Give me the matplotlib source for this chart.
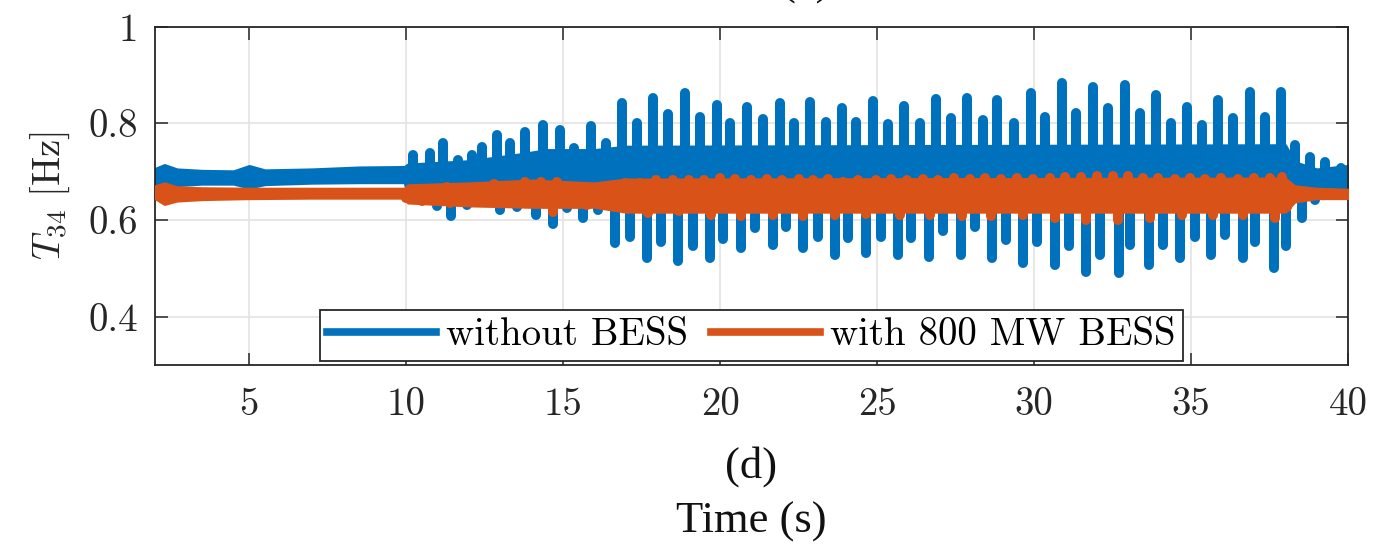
import matplotlib

matplotlib.use("Agg")
import matplotlib.pyplot as plt
from matplotlib.lines import Line2D

BLUE = "#0072BD"
RED = "#D95319"
EDGE = "#262626"
GRID = "#e3e3e3"

plt.rcParams.update({
    "font.family": "serif",
    "font.serif": ["cmr10"],
    "mathtext.fontset": "cm",
    "axes.unicode_minus": False,
    "axes.formatter.use_mathtext": True,
})

# ---- data ----------------------------------------------------------------
# solid core of each trace: time, lower edge, upper edge
blue_body_t = [2.0, 2.3, 2.7, 3.5, 4.5, 5.0, 5.5, 7.0, 8.5, 9.95, 10.05, 12.0,
               13.5, 14.5, 16.0, 17.0, 38.0, 38.3, 39.0, 40.0]
blue_body_lo = [0.672, 0.668, 0.672, 0.675, 0.675, 0.667, 0.674, 0.677, 0.678,
                0.678, 0.650, 0.645, 0.640, 0.638, 0.635, 0.630, 0.630, 0.655,
                0.665, 0.668]
blue_body_hi = [0.706, 0.714, 0.705, 0.702, 0.701, 0.712, 0.703, 0.705, 0.709,
                0.710, 0.715, 0.722, 0.735, 0.745, 0.745, 0.752, 0.755, 0.720,
                0.705, 0.712]

red_body_t = [2.0, 2.3, 2.7, 3.5, 5.0, 7.0, 9.95, 10.05, 12.0, 14.0, 16.0,
              17.0, 38.0, 38.3, 39.0, 40.0]
red_body_lo = [0.645, 0.633, 0.640, 0.643, 0.645, 0.646, 0.646, 0.636, 0.630,
               0.627, 0.627, 0.617, 0.617, 0.638, 0.645, 0.645]
red_body_hi = [0.670, 0.676, 0.668, 0.666, 0.665, 0.665, 0.665, 0.672, 0.676,
               0.682, 0.676, 0.684, 0.686, 0.670, 0.665, 0.663]

# oscillation peaks (outer edge of the stroke)
blue_up_t = [10.23, 10.76, 11.18, 11.66, 12.09, 12.40, 12.88, 13.31, 13.78,
             14.37, 14.90, 15.35, 15.90, 16.36, 16.87, 17.34, 17.87, 18.35,
             18.89, 19.36, 19.89, 20.33, 20.87, 21.37, 21.90, 22.34, 22.87,
             23.38, 23.87, 24.34, 24.88, 25.35, 25.86, 26.36, 26.87, 27.35,
             27.88, 28.37, 28.83, 29.36, 29.89, 30.34, 30.88, 31.35, 31.88,
             32.36, 32.89, 33.37, 33.88, 34.35, 34.87, 35.35, 35.86, 36.34,
             36.87, 37.35, 37.88, 38.30, 38.80, 39.26, 39.77]
blue_up_v = [0.745, 0.749, 0.769, 0.735, 0.745, 0.762, 0.786, 0.769, 0.793,
             0.807, 0.797, 0.760, 0.804, 0.769, 0.852, 0.811, 0.862, 0.830,
             0.873, 0.824, 0.848, 0.812, 0.844, 0.819, 0.852, 0.811, 0.855,
             0.814, 0.843, 0.814, 0.857, 0.810, 0.847, 0.811, 0.860, 0.821,
             0.862, 0.818, 0.859, 0.811, 0.873, 0.824, 0.893, 0.831, 0.886,
             0.842, 0.890, 0.831, 0.869, 0.811, 0.845, 0.807, 0.859, 0.821,
             0.876, 0.824, 0.876, 0.766, 0.741, 0.731, 0.717]

blue_dn_t = [10.49, 10.97, 11.42, 11.93, 12.35, 12.99, 13.52, 14.12, 14.69,
             15.11, 15.64, 16.12, 16.65, 17.13, 17.66, 18.13, 18.66, 19.14,
             19.67, 20.10, 20.65, 21.11, 21.67, 22.11, 22.64, 23.12, 23.66,
             24.08, 24.66, 25.14, 25.67, 26.09, 26.66, 27.11, 27.66, 28.11,
             28.65, 29.12, 29.65, 30.08, 30.66, 31.12, 31.67, 32.10, 32.69,
             33.07, 33.67, 34.11, 34.64, 35.12, 35.65, 36.08, 36.64, 37.03,
             37.64, 38.04, 38.52, 38.95, 39.40]
blue_dn_v = [0.631, 0.619, 0.598, 0.621, 0.631, 0.611, 0.617, 0.600, 0.582,
             0.614, 0.593, 0.611, 0.542, 0.555, 0.511, 0.545, 0.504, 0.535,
             0.511, 0.550, 0.531, 0.573, 0.538, 0.576, 0.531, 0.555, 0.517,
             0.552, 0.521, 0.555, 0.517, 0.552, 0.514, 0.566, 0.517, 0.576,
             0.511, 0.548, 0.500, 0.545, 0.497, 0.535, 0.483, 0.517, 0.480,
             0.538, 0.497, 0.538, 0.511, 0.555, 0.517, 0.559, 0.511, 0.545,
             0.490, 0.535, 0.593, 0.632, 0.650]

red_up_t = [10.30, 10.80, 11.30, 11.80, 12.30, 12.80, 13.30, 13.80, 14.30,
            14.80, 15.00, 15.50, 16.00, 16.50, 16.97, 17.45, 17.97, 18.50,
            19.00, 19.50, 20.00, 20.47, 21.00, 21.50, 21.98, 22.50, 22.97,
            23.45, 23.92, 24.40, 24.98, 25.45, 25.95, 26.45, 26.95, 27.45,
            27.95, 28.45, 28.95, 29.45, 29.98, 30.50, 30.98, 31.50, 31.99,
            32.50, 33.00, 33.48, 33.95, 34.48, 34.96, 35.44, 35.97, 36.50,
            37.00, 37.50, 37.90, 38.46, 39.00, 39.45]
red_up_v = [0.675, 0.672, 0.678, 0.675, 0.678, 0.684, 0.680, 0.688, 0.690,
            0.688, 0.679, 0.679, 0.676, 0.676, 0.686, 0.686, 0.693, 0.693,
            0.693, 0.693, 0.697, 0.695, 0.693, 0.695, 0.693, 0.695, 0.693,
            0.695, 0.690, 0.693, 0.693, 0.695, 0.693, 0.695, 0.693, 0.697,
            0.695, 0.697, 0.695, 0.697, 0.695, 0.697, 0.700, 0.700, 0.702,
            0.702, 0.702, 0.697, 0.697, 0.695, 0.697, 0.695, 0.697, 0.695,
            0.697, 0.697, 0.699, 0.668, 0.666, 0.662]

red_dn_t = [10.01, 10.50, 10.90, 11.39, 11.90, 12.60, 13.20, 14.00, 14.69,
            15.20, 15.75, 16.27, 16.70, 17.20, 17.70, 18.20, 18.70, 19.20,
            19.70, 20.20, 20.68, 21.16, 21.69, 22.17, 22.64, 23.18, 23.66,
            24.13, 24.66, 25.10, 25.73, 26.20, 26.68, 27.16, 27.69, 28.16,
            28.64, 29.12, 29.65, 30.07, 30.66, 31.19, 31.67, 32.20, 32.68,
            33.21, 33.69, 34.17, 34.70, 35.17, 35.70, 36.15, 36.66, 37.20,
            37.67, 38.07]
red_dn_v = [0.635, 0.628, 0.630, 0.624, 0.630, 0.628, 0.628, 0.624, 0.607,
            0.631, 0.621, 0.635, 0.617, 0.617, 0.604, 0.617, 0.608, 0.614,
            0.600, 0.614, 0.597, 0.617, 0.600, 0.617, 0.597, 0.614, 0.600,
            0.617, 0.602, 0.617, 0.600, 0.617, 0.600, 0.617, 0.597, 0.617,
            0.597, 0.614, 0.600, 0.617, 0.593, 0.617, 0.590, 0.614, 0.590,
            0.617, 0.593, 0.617, 0.600, 0.619, 0.600, 0.617, 0.600, 0.617,
            0.593, 0.617]

xticks = [5, 10, 15, 20, 25, 30, 35, 40]
yticks = [0.4, 0.6, 0.8, 1.0]
ytick_labels = ["0.4", "0.6", "0.8", "1"]
labels = ["without BESS", "with 800 MW BESS"]

# ---- figure ----------------------------------------------------------------
W, H, DPI = 1374, 544, 100
fig = plt.figure(figsize=(W / DPI, H / DPI), dpi=DPI)
ax = fig.add_axes([155 / W, 1 - 365 / H, (1348 - 155) / W, (365 - 26.7) / H])
YLIM = (0.3, 1.0)
ax.set_xlim(2, 40)
ax.set_ylim(*YLIM)

LW = 7.2  # stroke width in pt
lw_px = LW * DPI / 72
cap = (lw_px / 2) / (365 - 26.7) * (YLIM[1] - YLIM[0])


def trace(t, lo, hi, up_t, up_v, dn_t, dn_v, base, color, z):
    ax.fill_between(t, lo, hi, color=color, lw=2, edgecolor=color, zorder=z)
    ax.vlines(up_t, base, [v - cap for v in up_v], colors=color, lw=LW,
              capstyle="round", zorder=z)
    ax.vlines(dn_t, [v + cap for v in dn_v], base, colors=color, lw=LW,
              capstyle="round", zorder=z)


trace(blue_body_t, blue_body_lo, blue_body_hi, blue_up_t, blue_up_v,
      blue_dn_t, blue_dn_v, 0.69, BLUE, 2)
trace(red_body_t, red_body_lo, red_body_hi, red_up_t, red_up_v,
      red_dn_t, red_dn_v, 0.655, RED, 3)

ax.set_xticks(xticks)
ax.set_xticklabels([str(x) for x in xticks])
ax.set_yticks(yticks)
ax.set_yticklabels(ytick_labels)
ax.grid(True, color=GRID, lw=1.2, zorder=0)
ax.set_axisbelow(True)
ax.tick_params(direction="in", length=9, width=1.1, colors=EDGE,
               labelsize=28, top=True, right=True, pad=12)
ax.tick_params(axis="x", pad=16)
for sp in ax.spines.values():
    sp.set_color(EDGE)
    sp.set_linewidth(1.3)

ax.set_ylabel(r"$T_{34}\ [\mathrm{Hz}]$", fontsize=28, color=EDGE, labelpad=12)

handles = [Line2D([], [], color=BLUE, lw=5.5), Line2D([], [], color=RED, lw=5.5)]
leg = ax.legend(handles, labels, loc="lower center", ncol=2, fontsize=28,
                frameon=True, fancybox=False, edgecolor=EDGE, borderpad=0.2,
                handlelength=2.8, handletextpad=0.25, columnspacing=0.6,
                borderaxespad=0.1, framealpha=1)
leg.get_frame().set_linewidth(1.3)
leg.set_zorder(10)

fig.text(751 / W, 1 - 478 / H, "(d)", ha="center", va="baseline",
         fontsize=32, family="Liberation Serif", color="#111111")
fig.text(751 / W, 1 - 533 / H, "Time (s)", ha="center", va="baseline",
         fontsize=32, family="Liberation Serif", color="#111111")
# bottom of the panel label above, cut by the top edge as in the source
fig.text(806 / W, 1 + 5 / H, "(c)", ha="center", va="baseline",
         fontsize=32, family="Liberation Serif", color="#111111")

fig.savefig("out.png", dpi=DPI)
